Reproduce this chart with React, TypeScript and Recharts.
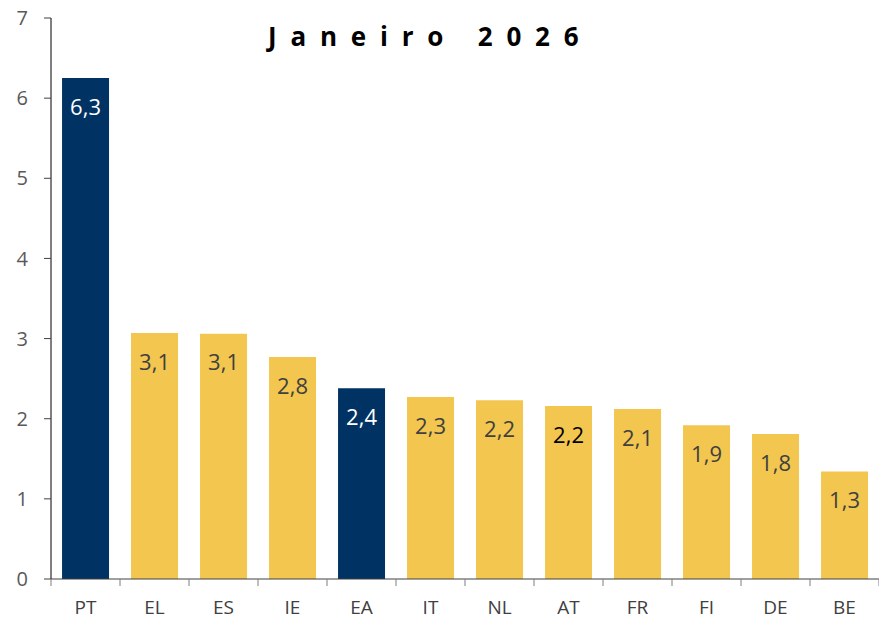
import { BarChart, Bar, XAxis, YAxis, Cell, LabelList } from 'recharts';

const countries = ['PT', 'EL', 'ES', 'IE', 'EA', 'IT', 'NL', 'AT', 'FR', 'FI', 'DE', 'BE'];
const values = [6.25, 3.07, 3.06, 2.77, 2.38, 2.27, 2.23, 2.16, 2.12, 1.92, 1.81, 1.34];
const yTicks = [0, 1, 2, 3, 4, 5, 6, 7];
const highlighted = ['PT', 'EA'];

const NAVY = '#003363';
const YELLOW = '#F2C64F';
const FONT = '"Open Sans", "Noto Sans", sans-serif';

const data = countries.map((country, i) => ({ country, value: values[i] }));

const formatPt = (v: number) => v.toFixed(1).replace('.', ',');

// category label plus a separator tick on the left edge of each band
const CategoryTick = (props: any) => {
  const { x, y, payload, index, visibleTicksCount } = props;
  const half = payload?.offset ?? 34.5;
  const axisY = y - 7 - 15;
  const isLast = index === visibleTicksCount - 1;
  return (
    <g>
      <line x1={x - half} x2={x - half} y1={axisY} y2={axisY + 7} stroke="#7f7f7f" />
      {isLast && <line x1={x + half} x2={x + half} y1={axisY} y2={axisY + 7} stroke="#7f7f7f" />}
      <text x={x} y={y} dy="0.71em" textAnchor="middle" fill="#404040" fontSize={19} fontFamily={FONT}>
        {payload.value}
      </text>
    </g>
  );
};

const renderValueLabel = (props: any) => {
  const { x, y, width, value, index } = props;
  const country = countries[index];
  let color = '#404040';
  if (highlighted.includes(country)) color = '#ffffff';
  if (country === 'AT') color = '#000000';
  return (
    <text
      x={x + width / 2}
      y={y + 21}
      dy="0.71em"
      textAnchor="middle"
      fill={color}
      fontSize={22}
      fontFamily={FONT}
    >
      {formatPt(value)}
    </text>
  );
};

const App = () => {
  return (
    <div style={{ position: 'absolute', left: 0, top: 0, width: 879, height: 620, background: '#fff' }}>
      <div
        style={{
          position: 'absolute',
          left: 268,
          top: 19,
          fontFamily: FONT,
          fontWeight: 700,
          fontSize: 26,
          letterSpacing: 13.8,
          color: '#000',
          whiteSpace: 'nowrap',
          lineHeight: '34px',
          zIndex: 2,
        }}
      >
        Janeiro 2026
      </div>
      <BarChart
        width={879}
        height={620}
        data={data}
        margin={{ top: 18, right: 0, left: 0, bottom: 0 }}
        barCategoryGap="16%"
      >
        <XAxis
          dataKey="country"
          height={41}
          axisLine={{ stroke: '#404040' }}
          tickLine={false}
          tickSize={7}
          tickMargin={15}
          interval={0}
          tick={<CategoryTick />}
        />
        <YAxis
          width={51}
          domain={[0, 7]}
          ticks={yTicks}
          interval={0}
          axisLine={{ stroke: '#000' }}
          tickLine={{ stroke: '#404040' }}
          tickSize={7}
          tickMargin={16}
          tick={{ fill: '#595959', fontSize: 20, fontFamily: FONT }}
        />
        <Bar dataKey="value" isAnimationActive={false}>
          {data.map((d) => (
            <Cell key={d.country} fill={highlighted.includes(d.country) ? NAVY : YELLOW} />
          ))}
          <LabelList dataKey="value" content={renderValueLabel} />
        </Bar>
      </BarChart>
    </div>
  );
};

export default App;
